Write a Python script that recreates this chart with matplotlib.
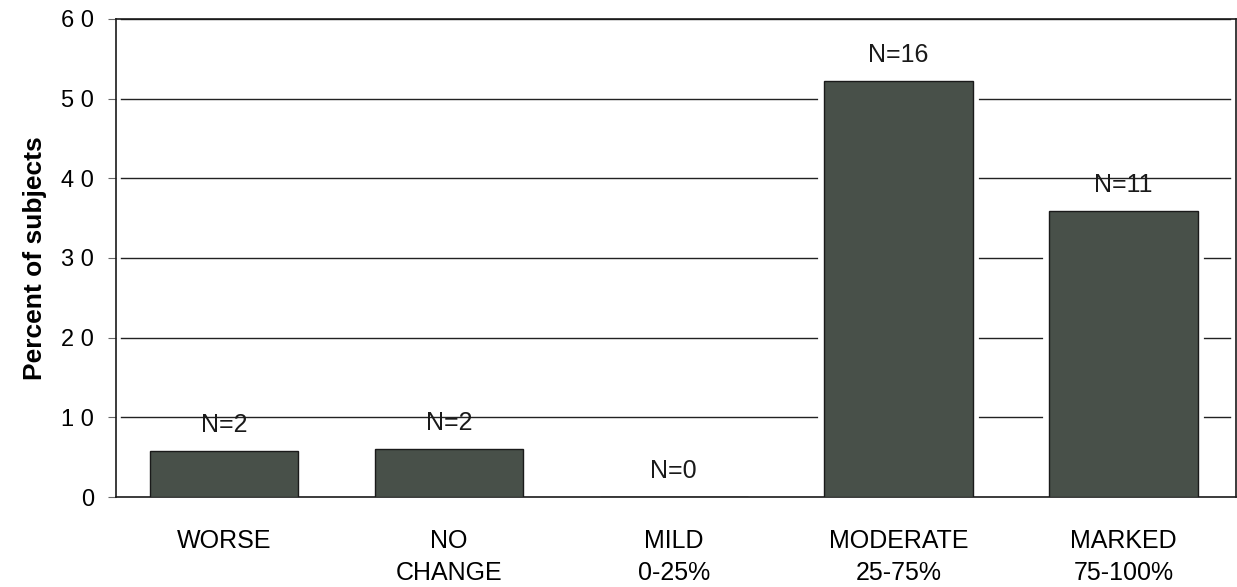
import matplotlib.pyplot as plt

categories = ["WORSE", "NO\nCHANGE", "MILD\n0-25%", "MODERATE\n25-75%", "MARKED\n75-100%"]
percent = [5.8, 6.0, 0.0, 52.2, 35.9]
n_labels = ["N=2", "N=2", "N=0", "N=16", "N=11"]
yticks = [0, 10, 20, 30, 40, 50, 60]

plt.rcParams['font.family'] = ['Liberation Sans', 'DejaVu Sans']

fig = plt.figure(figsize=(12.37, 5.87), dpi=100)
ax = fig.add_axes([0.094, 0.153, 0.905, 0.815])

x = list(range(len(categories)))

# gridlines, broken around the bars by a white halo
for y in yticks[1:]:
    ax.axhline(y, xmin=0.004, xmax=0.995, color='#222222', lw=1.0, zorder=1)
ax.bar(x, percent, width=0.66, color='white', edgecolor='white', linewidth=8.5, zorder=2)
ax.bar(x, percent, width=0.66, color='#485049', edgecolor='#1a1a1a', linewidth=1.0, zorder=3)

for xi, p, lab in zip(x, percent, n_labels):
    ax.text(xi, p + 2.4, lab, ha='center', va='baseline', fontsize=18, color='#1a1a1a', zorder=4)

ax.set_xlim(-0.48, 4.5)
ax.set_ylim(0, 60)
ax.set_yticks(yticks)
ax.set_yticklabels([" ".join(str(t)) for t in yticks], fontsize=17)
ax.set_xticks(x)
ax.set_xticklabels(categories, fontsize=18, linespacing=1.4, va='top')
ax.tick_params(axis='x', length=0, pad=23)
ax.tick_params(axis='y', length=6, width=0.8, direction='out', pad=10, color='#666666')
ax.set_ylabel("Percent of subjects", fontsize=19, fontweight='bold', labelpad=10)

for s in ax.spines.values():
    s.set_color('#1a1a1a')
    s.set_linewidth(1.2)

fig.savefig("out.png", dpi=100, facecolor='white')
